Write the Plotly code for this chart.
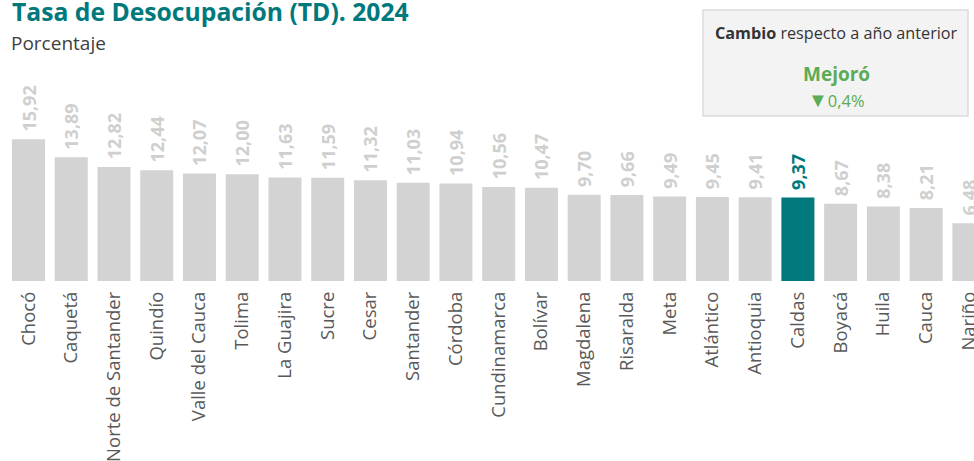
import plotly.graph_objects as go

departamentos = ["Chocó", "Caquetá", "Norte de Santander", "Quindío", "Valle del Cauca",
                 "Tolima", "La Guajira", "Sucre", "Cesar", "Santander", "Córdoba",
                 "Cundinamarca", "Bolívar", "Magdalena", "Risaralda", "Meta", "Atlántico",
                 "Antioquia", "Caldas", "Boyacá", "Huila", "Cauca", "Nariño"]
td_2024 = [15.92, 13.89, 12.82, 12.44, 12.07, 12.00, 11.63, 11.59, 11.32, 11.03, 10.94,
           10.56, 10.47, 9.70, 9.66, 9.49, 9.45, 9.41, 9.37, 8.67, 8.38, 8.21, 6.48]
destacado = "Caldas"
cambio_texto = "Mejoró"
cambio_valor = "0,4%"

TEAL = "#00797C"
GRAY = "#D3D3D3"
LABEL_GRAY = "#CFCFCF"
GREEN = "#5CAB55"

colors = [TEAL if d == destacado else GRAY for d in departamentos]
text_colors = [TEAL if d == destacado else LABEL_GRAY for d in departamentos]
texts = ["\u00a0<b>%s</b>" % f"{v:.2f}".replace(".", ",") for v in td_2024]

fig = go.Figure(go.Bar(
    x=departamentos, y=td_2024,
    marker=dict(color=colors, line=dict(width=0)),
    text=texts, textposition="outside", textangle=-90,
    textfont=dict(family="Open Sans", size=18, color=text_colors),
    constraintext="none", cliponaxis=False,
    hoverinfo="skip",
))

H_PLOT = 281.0

def py(ypx):
    return 1 - ypx / H_PLOT

fig.update_layout(
    width=974, height=461,
    margin=dict(l=0, r=0, t=0, b=180, pad=0),
    paper_bgcolor="white", plot_bgcolor="white",
    bargap=0.228,
    showlegend=False,
    font=dict(family="Open Sans", color="#595959"),
    xaxis=dict(range=[-0.667, 22.12], tickangle=-90, showgrid=False, zeroline=False,
               showline=False, ticks="", automargin=False, fixedrange=True,
               tickfont=dict(family="Open Sans", size=18.5, color="#595959"),
               ticklabelstandoff=6),
    yaxis=dict(range=[0, 31.57], visible=False, fixedrange=True, automargin=False),
    shapes=[dict(type="rect", xref="paper", yref="paper",
                 x0=703/974, x1=968/974, y0=py(116), y1=py(10),
                 fillcolor="#F3F3F3", line=dict(color="#DCDCDC", width=1.5), layer="below")],
    annotations=[
        dict(text="<b>Tasa de Desocupación (TD). 2024</b>", xref="paper", yref="paper",
             x=10/974, y=py(12), xanchor="left", yanchor="middle", showarrow=False,
             font=dict(family="Open Sans", size=24.7, color=TEAL)),
        dict(text="Porcentaje", xref="paper", yref="paper",
             x=9/974, y=py(43), xanchor="left", yanchor="middle", showarrow=False,
             font=dict(family="Open Sans", size=19, color="#404040")),
        dict(text="<b>Cambio</b> respecto a año anterior", xref="paper", yref="paper",
             x=836/974, y=py(33), xanchor="center", yanchor="middle", showarrow=False,
             font=dict(family="Open Sans", size=16.2, color="#333333")),
        dict(text=f"<b>{cambio_texto}</b>", xref="paper", yref="paper",
             x=836/974, y=py(74), xanchor="center", yanchor="middle", showarrow=False,
             font=dict(family="Open Sans", size=19, color=GREEN)),
        dict(text=f"<span style='font-size:20px'>▼</span>{cambio_valor}", xref="paper", yref="paper",
             x=836/974, y=py(99), xanchor="center", yanchor="middle", showarrow=False,
             font=dict(family="Open Sans", size=16.5, color=GREEN)),
    ],
)

fig.write_html("out.html", config={"displayModeBar": False},
               post_script="document.body.style.margin='0';document.body.style.overflow='hidden';")
